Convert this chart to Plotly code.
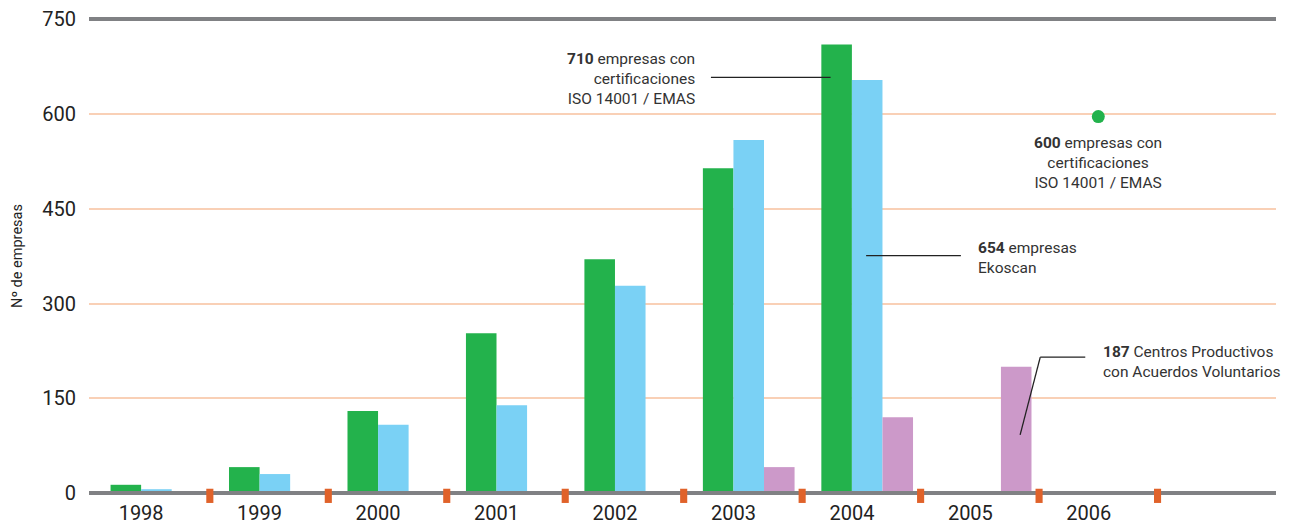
import plotly.graph_objects as go

# data
years = [1998, 1999, 2000, 2001, 2002, 2003, 2004, 2005, 2006]
iso_emas = [13, 41, 130, 253, 370, 514, 710, None, None]
ekoscan = [6, 30, 108, 139, 328, 559, 654, None, None]
acuerdos = [None, None, None, None, None, 41, 120, 200, None]
objetivo_x = [2006.08]
objetivo_y = [596]
y_ticks = [0, 150, 300, 450, 600, 750]

GREEN = "#23b24c"
BLUE = "#7ad1f5"
PURPLE = "#cc99c9"
GRAY = "#808184"
ORANGE = "#e0622a"
GRID = "#f9d0b6"
TXT = "#333333"
FONT = "Roboto, sans-serif"

w = 0.258

fig = go.Figure()
fig.add_trace(go.Bar(x=years, y=iso_emas, width=w, offset=-w, marker_color=GREEN,
                     marker_line_width=0, name="ISO 14001 / EMAS"))
fig.add_trace(go.Bar(x=years, y=ekoscan, width=w, offset=0, marker_color=BLUE,
                     marker_line_width=0, name="Ekoscan"))
fig.add_trace(go.Bar(x=years, y=acuerdos, width=w, offset=w, marker_color=PURPLE,
                     marker_line_width=0, name="Acuerdos Voluntarios"))

fig.add_trace(go.Scatter(x=objetivo_x, y=objetivo_y, mode="markers", cliponaxis=False,
                         marker=dict(size=13, color=GREEN), hoverinfo="skip"))

# gray lines at top and bottom of the plot
for yp in [0, 1]:
    fig.add_shape(type="line", xref="paper", yref="paper", x0=0, x1=1, y0=yp, y1=yp,
                  line=dict(color=GRAY, width=4), layer="above")

# orange separators between years on the axis
for y in years:
    s = y + 0.58
    fig.add_shape(type="rect", xref="x", yref="paper", x0=s - 0.03, x1=s + 0.03,
                  y0=-0.021, y1=0.009, fillcolor=ORANGE, line_width=0, layer="above")

# callout lines
fig.add_shape(type="line", xref="x", yref="y", x0=2002.81, x1=2003.82, y0=658, y1=658,
              line=dict(color="#222", width=1.3))
fig.add_shape(type="line", xref="x", yref="y", x0=2004.12, x1=2004.92, y0=376, y1=376,
              line=dict(color="#222", width=1.3))
fig.add_shape(type="line", xref="x", yref="y", x0=2005.97, x1=2005.59, y0=215, y1=215,
              line=dict(color="#222", width=1.3))
fig.add_shape(type="line", xref="x", yref="y", x0=2005.59, x1=2005.42, y0=215, y1=92,
              line=dict(color="#222", width=1.3))

annots = [
    dict(x=2002.69, y=655, text="<b>710</b> empresas con<br>certificaciones<br>ISO 14001 / EMAS",
         xanchor="right", align="right"),
    dict(x=2006.08, y=522, text="<b>600</b> empresas con<br>certificaciones<br>ISO 14001 / EMAS",
         xanchor="center", align="center"),
    dict(x=2005.05, y=372, text="<b>654</b> empresas<br>Ekoscan",
         xanchor="left", align="left"),
    dict(x=2006.10, y=207, text="<b>187</b> Centros Productivos<br>con Acuerdos Voluntarios",
         xanchor="left", align="left"),
]
for a in annots:
    fig.add_annotation(xref="x", yref="y", showarrow=False, yanchor="middle",
                       font=dict(family=FONT, size=15.5, color=TXT), **a)

fig.update_layout(
    width=1296, height=532,
    margin=dict(l=81, r=28, t=11, b=47),
    plot_bgcolor="white", paper_bgcolor="white",
    showlegend=False,
    barmode="overlay",
    font=dict(family=FONT, color="#222"),
    xaxis=dict(range=[1997.56, 2007.58], tickvals=years, ticktext=[str(y) for y in years],
               showgrid=False, zeroline=False, showline=False, ticks="", automargin=False,
               tickfont=dict(size=20, color="#222"), ticklabelstandoff=6),
    yaxis=dict(range=[0, 750.5], tickvals=y_ticks, showgrid=True, gridcolor=GRID, gridwidth=1.5,
               zeroline=False, showline=False, ticks="", ticklabelstandoff=12,
               ticklabeloverflow="allow", automargin=False,
               tickfont=dict(size=20, color="#222"),
               title=dict(text="Nº de empresas", font=dict(size=14.5, color="#222"), standoff=16)),
)

fig.write_html("out.html")
